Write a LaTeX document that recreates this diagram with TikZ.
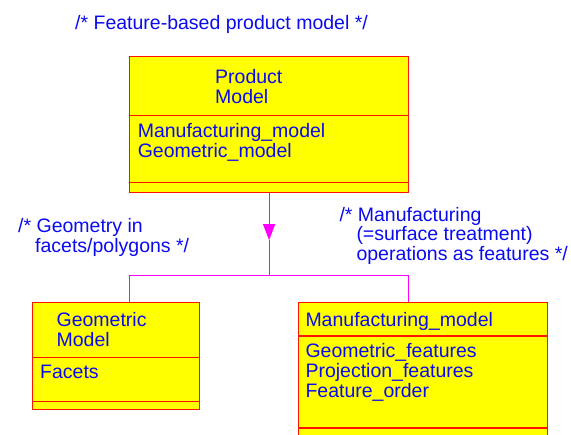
\documentclass[tikz,border=0pt]{standalone}
\usepackage{fontspec}
\setmainfont{Liberation Sans}
\usetikzlibrary{arrows.meta,positioning}
\definecolor{umlfill}{RGB}{255,255,0}
\definecolor{umledge}{RGB}{255,20,0}
\definecolor{umltext}{RGB}{10,10,240}
\definecolor{umllink}{RGB}{255,0,255}

\begin{document}
\begin{tikzpicture}[
  x=1pt, y=-1pt,
  >={Triangle[length=16pt,width=12pt]},
  classbox/.style={draw=umledge,fill=umlfill,line width=1.2pt,anchor=north west,inner sep=0pt},
  txt/.style={anchor=north west,inner sep=0pt,align=left,text=umltext,
    font=\fontsize{19.5}{19.8}\selectfont},
  link/.style={draw=umllink,line width=1pt}]
  \clip (0,0) rectangle (571,435);
  \useasboundingbox (0,0) rectangle (571,435);

  % class boxes
  \node[classbox,minimum width=279pt,minimum height=135.7pt] (prod) at (129,56) {};
  \node[classbox,minimum width=167pt,minimum height=107.3pt] (geo) at (32,302) {};
  \node[classbox,minimum width=249pt,minimum height=150pt] (mfg) at (298,302) {};

  % compartment lines
  \draw[draw=umledge,line width=1.2pt] ([yshift=-59.7pt]prod.north west) -- ([yshift=-59.7pt]prod.north east);
  \draw[draw=umledge,line width=1.2pt] ([yshift=10pt]prod.south west) -- ([yshift=10pt]prod.south east);
  \draw[draw=umledge,line width=1.2pt] ([yshift=-55.3pt]geo.north west) -- ([yshift=-55.3pt]geo.north east);
  \draw[draw=umledge,line width=1.2pt] ([yshift=9.3pt]geo.south west) -- ([yshift=9.3pt]geo.south east);
  \draw[draw=umledge,line width=1.2pt] ([yshift=-34pt]mfg.north west) -- ([yshift=-34pt]mfg.north east);
  \draw[draw=umledge,line width=1.2pt] ([yshift=-126pt]mfg.north west) -- ([yshift=-126pt]mfg.north east);

  % texts
  \node[txt] (title) at (75,14.8) {/* Feature-based product model */};
  \node[txt] (prodname) at (215,69.3) {Product\\Model};
  \node[txt] (prodattr) at (137.6,123.5) {Manufacturing\_model\\Geometric\_model};
  \node[txt] (geoname) at (56.4,312.5) {Geometric\\Model};
  \node[txt] (geoattr) at (40,365) {Facets};
  \node[txt] (mfgname) at (305.3,312.5) {Manufacturing\_model};
  \node[txt] (mfgattr) at (305.3,343.5) {Geometric\_features\\Projection\_features\\Feature\_order};
  \node[txt] (geonote) at (18,218.5) {/* Geometry in\\\hspace*{17pt}facets/polygons */};
  \node[txt] (mfgnote) at (339.3,206.8)
    {/* Manufacturing\\\hspace*{17pt}(=surface treatment)\\\hspace*{17pt}operations as features */};

  % aggregation links
  \coordinate (tip) at ([yshift=-47.3pt]prod.south);
  \coordinate (join) at ([yshift=-82.3pt]prod.south);
  \draw[link,->] (prod.south) -- (tip);
  \draw[link] (tip) -- (join);
  \draw[link] (join) -| ([xshift=13.5pt]geo.north);
  \draw[link] (join) -| ([xshift=-14.5pt]mfg.north);
\end{tikzpicture}
\end{document}
